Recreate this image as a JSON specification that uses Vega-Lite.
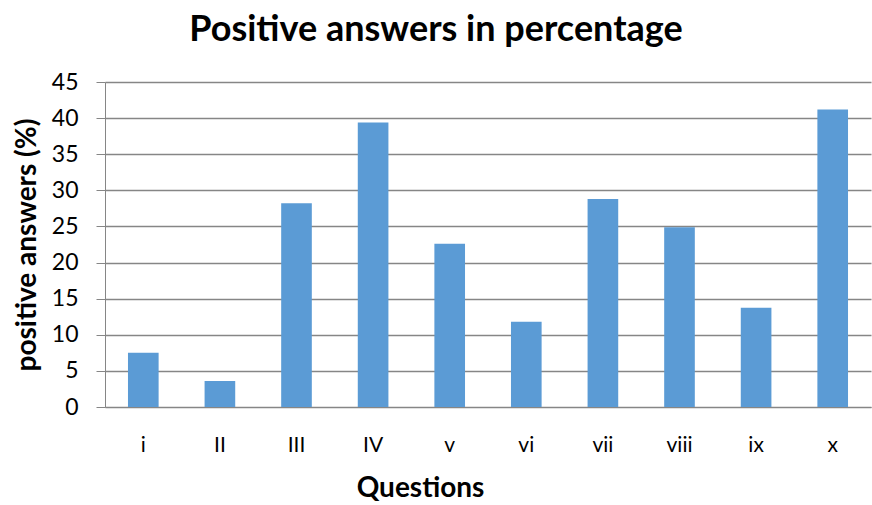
{
  "$schema": "https://vega.github.io/schema/vega-lite/v6.json",
  "width": 766,
  "height": 325,
  "autosize": "none",
  "padding": {"left": 105, "top": 82, "right": 1, "bottom": 98},
  "background": "white",
  "title": {
    "text": "Positive answers in percentage",
    "anchor": "middle",
    "dx": -52,
    "offset": 22,
    "font": "Lato",
    "fontSize": 36,
    "fontWeight": "bold",
    "color": "#000000"
  },
  "data": {
    "values": [
      {"question": "i", "value": 7.5},
      {"question": "II", "value": 3.6},
      {"question": "III", "value": 28.2},
      {"question": "IV", "value": 39.4},
      {"question": "v", "value": 22.6},
      {"question": "vi", "value": 11.8},
      {"question": "vii", "value": 28.8},
      {"question": "viii", "value": 24.9},
      {"question": "ix", "value": 13.75},
      {"question": "x", "value": 41.2}
    ]
  },
  "mark": {"type": "bar", "color": "#5B9BD5"},
  "encoding": {
    "x": {
      "field": "question",
      "type": "nominal",
      "sort": null,
      "scale": {"paddingInner": 0.6, "paddingOuter": 0.3},
      "axis": {
        "title": "Questions",
        "labelAngle": 0,
        "labelFont": "Lato",
        "labelFontSize": 21,
        "labelColor": "#000000",
        "labelPadding": 27,
        "ticks": false,
        "domainColor": "#868686",
        "titleFont": "Lato",
        "titleFontSize": 28,
        "titleFontWeight": "bold",
        "titleColor": "#000000",
        "titlePadding": 19,
        "titleX": 315
      }
    },
    "y": {
      "field": "value",
      "type": "quantitative",
      "scale": {"domain": [0, 45], "nice": false},
      "axis": {
        "title": "positive answers (%)",
        "values": [0, 5, 10, 15, 20, 25, 30, 35, 40, 45],
        "labelFont": "Lato",
        "labelFontSize": 23,
        "labelColor": "#000000",
        "labelPadding": 18,
        "tickSize": 9,
        "tickColor": "#868686",
        "domainColor": "#868686",
        "gridColor": "#868686",
        "gridWidth": 1.3,
        "titleFont": "Lato",
        "titleFontSize": 28,
        "titleFontWeight": "bold",
        "titleColor": "#000000",
        "titlePadding": 10
      }
    }
  },
  "config": {"view": {"stroke": null}}
}
